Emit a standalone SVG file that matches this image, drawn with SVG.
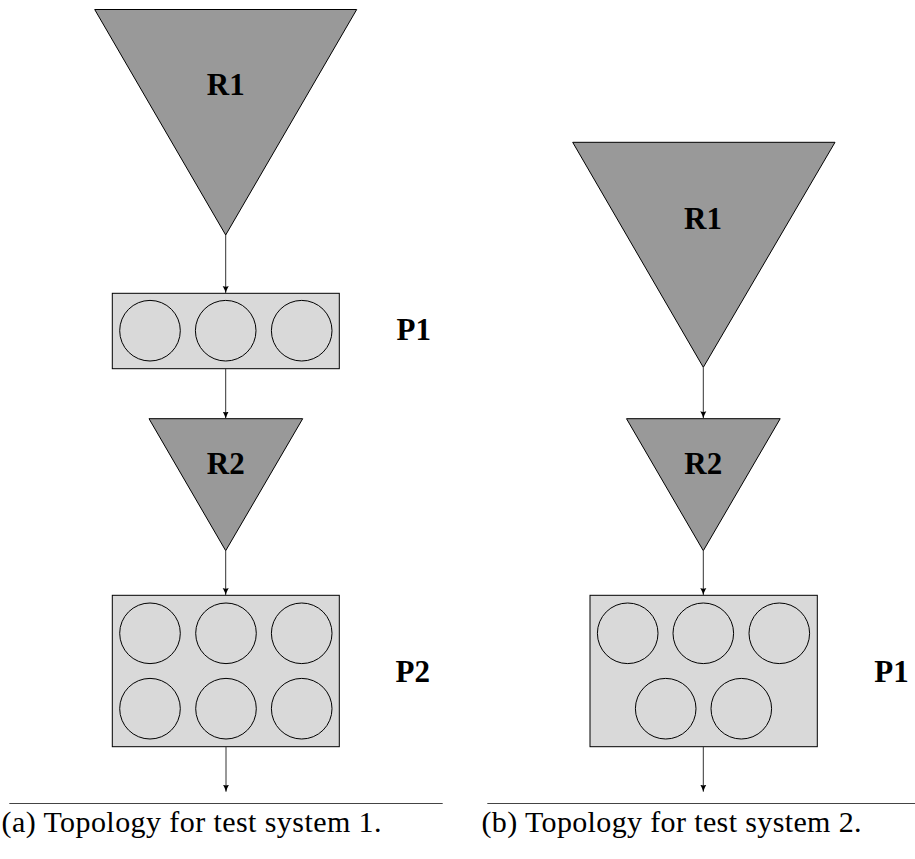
<svg xmlns="http://www.w3.org/2000/svg" width="915" height="859" viewBox="0 0 915 859">
<defs>
<marker id="arr" markerWidth="8" markerHeight="8" refX="7" refY="4" orient="auto" markerUnits="userSpaceOnUse">
<path d="M0,1 Q3.5,3 7,4 Q3.5,5 0,7 Q1.5,4 0,1 Z" fill="#000"/>
</marker>
</defs>
<style>
.tri{fill:#999999;stroke:#000;stroke-width:1}
.box{fill:#d9d9d9;stroke:#000;stroke-width:1}
.cell{fill:none;stroke:#000;stroke-width:1}
.lbl{font-family:"Liberation Serif",serif;font-weight:bold;font-size:31px;fill:#000}
.cap{font-family:"Liberation Serif",serif;font-size:30px;fill:#000}
.edge{stroke:#333;stroke-width:1;fill:none;marker-end:url(#arr)}
.rule{stroke:#444;stroke-width:1}
</style>
<rect width="915" height="859" fill="#fff"/>

<!-- Left diagram (a) -->
<g id="a-R1">
<polygon class="tri" points="94.7,9.5 356.7,9.5 225.7,235"/>
<text class="lbl" x="225.7" y="94.5" text-anchor="middle">R1</text>
</g>
<g id="a-P1">
<rect class="box" x="112.3" y="293.3" width="227" height="75.4"/>
<circle class="cell" cx="150" cy="330.7" r="30.3"/>
<circle class="cell" cx="225.7" cy="330.7" r="30.3"/>
<circle class="cell" cx="301.7" cy="330.7" r="30.3"/>
<text class="lbl" x="396.5" y="340">P1</text>
</g>
<g id="a-R2">
<polygon class="tri" points="149,418.7 302.7,418.7 225.7,550.7"/>
<text class="lbl" x="225.7" y="473.5" text-anchor="middle">R2</text>
</g>
<g id="a-P2">
<rect class="box" x="112.3" y="595.3" width="227" height="151.4"/>
<circle class="cell" cx="150" cy="633.3" r="30.3"/>
<circle class="cell" cx="226" cy="633.3" r="30.3"/>
<circle class="cell" cx="301.7" cy="633.3" r="30.3"/>
<circle class="cell" cx="150" cy="708.7" r="30.3"/>
<circle class="cell" cx="226" cy="708.7" r="30.3"/>
<circle class="cell" cx="301.7" cy="708.7" r="30.3"/>
<text class="lbl" x="395.5" y="681.5">P2</text>
</g>

<!-- Right diagram (b) -->
<g id="b-R1">
<polygon class="tri" points="572.7,142.3 835,142.3 703.3,367.3"/>
<text class="lbl" x="703" y="228.5" text-anchor="middle">R1</text>
</g>
<g id="b-R2">
<polygon class="tri" points="626.5,418.7 780.2,418.7 703.3,550.7"/>
<text class="lbl" x="703.3" y="473.5" text-anchor="middle">R2</text>
</g>
<g id="b-P1">
<rect class="box" x="590" y="595.3" width="227.3" height="151.4"/>
<circle class="cell" cx="627.7" cy="633.3" r="30.3"/>
<circle class="cell" cx="703.3" cy="633.3" r="30.3"/>
<circle class="cell" cx="779.3" cy="633.3" r="30.3"/>
<circle class="cell" cx="665.7" cy="708.7" r="30.3"/>
<circle class="cell" cx="741.3" cy="708.7" r="30.3"/>
<text class="lbl" x="874.3" y="681.5">P1</text>
</g>

<g id="connectors">
<line class="edge" x1="225.7" y1="235" x2="225.7" y2="293"/>
<line class="edge" x1="225.7" y1="368.7" x2="225.7" y2="418.5"/>
<line class="edge" x1="225.7" y1="550.7" x2="225.7" y2="595"/>
<line class="edge" x1="226" y1="746.7" x2="226" y2="791.7"/>
<line class="edge" x1="703.3" y1="367.3" x2="703.3" y2="418.3"/>
<line class="edge" x1="703.3" y1="550.7" x2="703.3" y2="595"/>
<line class="edge" x1="703.3" y1="746.7" x2="703.3" y2="791.7"/>
</g>

<g id="captions">
<line class="rule" x1="9.3" y1="803.5" x2="442.7" y2="803.5"/>
<line class="rule" x1="487.3" y1="803.5" x2="915" y2="803.5"/>
<text class="cap" x="1.5" y="832" textLength="380">(a) Topology for test system 1.</text>
<text class="cap" x="481.5" y="832" textLength="380">(b) Topology for test system 2.</text>
</g>
</svg>
